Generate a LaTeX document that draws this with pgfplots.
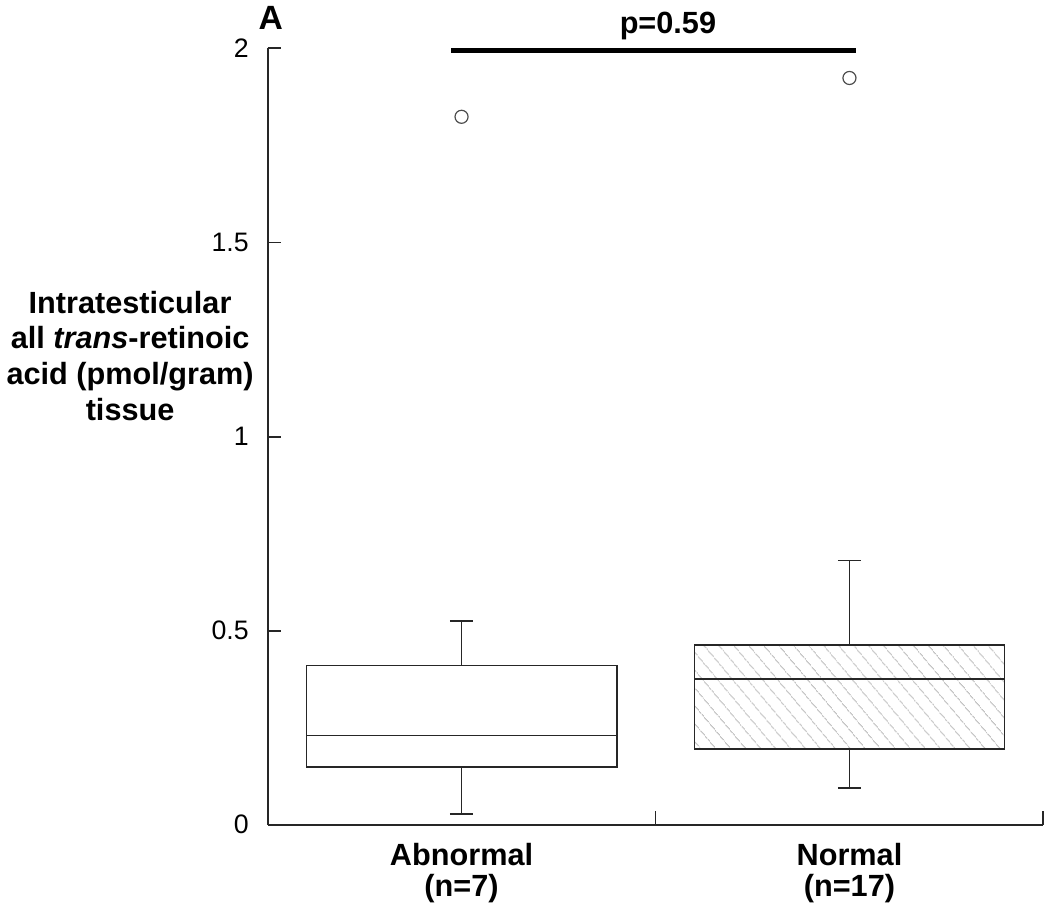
\documentclass[border=0pt]{standalone}
\usepackage{fontspec}
\setmainfont{Liberation Sans}
\usepackage{pgfplots}
\pgfplotsset{compat=1.18}
\usepgfplotslibrary{statistics}
\usetikzlibrary{patterns.meta}

\begin{document}
\begin{tikzpicture}
\begin{axis}[
    scale only axis,
    width=392.2bp, height=392.3bp,
    xmin=0, xmax=2, ymin=0, ymax=2,
    clip=false,
    boxplot/draw direction=y,
    axis x line*=bottom, axis y line*=left,
    axis line style={line width=1bp, black!85},
    every tick/.style={line width=1bp, black!85},
    tick align=inside,
    major tick length=7bp,
    xtick={1,2}, xticklabels={},
    extra x ticks={0.5,1.5},
    extra x tick labels={{Abnormal\\(n=7)},{Normal\\(n=17)}},
    extra x tick style={
        major tick length=0pt,
        tick label style={font=\fontsize{15.5bp}{15.5bp}\selectfont\bfseries, align=center, yshift=-6bp},
    },
    ytick={0,0.5,1,1.5,2},
    yticklabel style={font=\fontsize{13.5bp}{15bp}\selectfont, xshift=-6bp},
    /pgf/number format/assume math mode=true,
]
%% Abnormal group
\addplot[black!85, line width=0.8bp, boxplot prepared={
    draw position=0.5, box extend=0.8, whisker extend=0.06,
    lower whisker=0.027, lower quartile=0.149, median=0.23,
    upper quartile=0.41, upper whisker=0.525}] coordinates {};
%% Normal group (hatched)
\addplot[black!85, line width=0.8bp, boxplot prepared={
    draw position=1.5, box extend=0.8, whisker extend=0.06,
    lower whisker=0.094, lower quartile=0.194, median=0.375,
    upper quartile=0.463, upper whisker=0.68},
    boxplot/every box/.style={pattern={Lines[angle=-50, distance=6bp, line width=0.4bp]}, pattern color=gray!75}]
    coordinates {};
%% Outliers
\addplot[only marks, mark=o, mark size=3.3bp, black!70, mark options={line width=0.6bp}]
    coordinates {(0.5,1.824)(1.5,1.924)};
%% Significance bar
\addplot[black, line width=2.5bp] coordinates {(0.473,1.995)(1.517,1.995)};
\node[anchor=base, font=\fontsize{15.5bp}{16bp}\selectfont\bfseries, yshift=8.7bp]
    at (axis cs:1.032,1.995) {p=0.59};
\node[anchor=base west, font=\fontsize{17bp}{18bp}\selectfont\bfseries, xshift=-8bp, yshift=9.5bp]
    at (axis cs:0,2) {A};
\node[align=center, font=\fontsize{15.5bp}{18bp}\selectfont\bfseries, xshift=-69.5bp]
    at (axis cs:0,1.208) {Intratesticular\\all \textit{trans}-retinoic\\acid (pmol/gram)\\tissue};
\end{axis}
\end{tikzpicture}
\end{document}
